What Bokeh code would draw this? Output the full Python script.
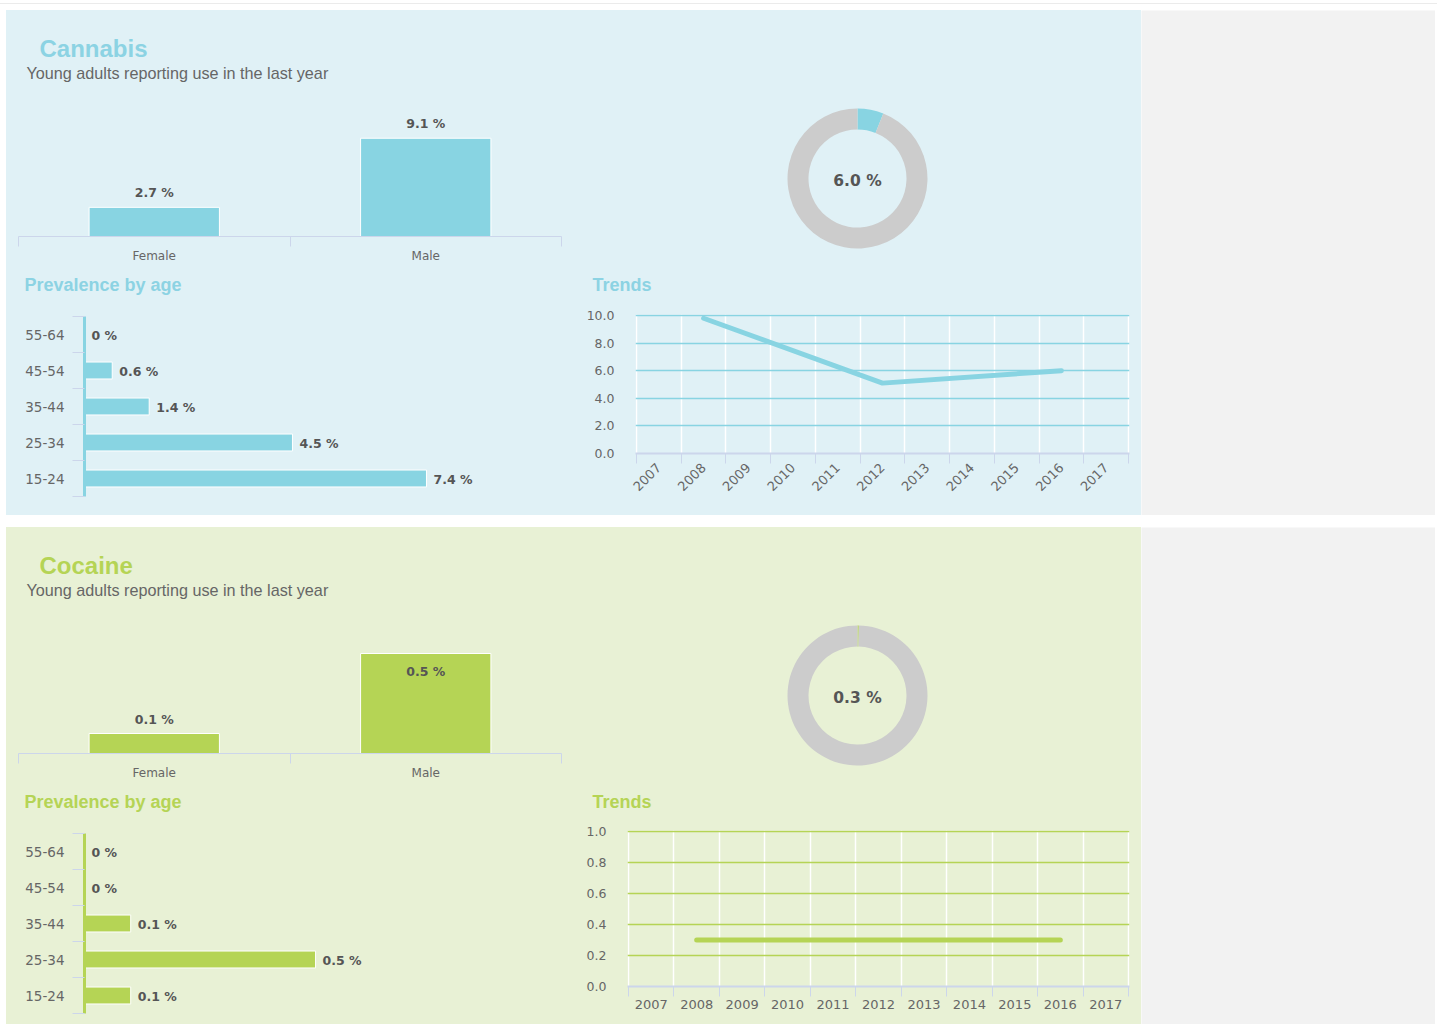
import math
from bokeh.plotting import figure
from bokeh.models import Range1d, FixedTicker, Spacer, PrintfTickFormatter
from bokeh.layouts import row, column
from bokeh.embed import file_html
from bokeh.resources import INLINE
from bokeh.core.properties import value

# ---------------- data ----------------
subtitle = "Young adults reporting use in the last year"
genders = ["Female", "Male"]
age_groups = ["15-24", "25-34", "35-44", "45-54", "55-64"]
years = ["2007", "2008", "2009", "2010", "2011", "2012", "2013", "2014", "2015", "2016", "2017"]

cannabis_gender = [2.7, 9.1]
cannabis_total = 6.0
cannabis_age = [7.4, 4.5, 1.4, 0.6, 0.0]
cannabis_trend = [None, 9.8, None, None, None, 5.1, None, None, None, 6.0, None]
cannabis_trend_ticks = [0, 2, 4, 6, 8, 10]

cocaine_gender = [0.1, 0.5]
cocaine_total = 0.3
cocaine_age = [0.1, 0.5, 0.1, 0.0, 0.0]
cocaine_trend = [None, 0.3, None, None, None, 0.3, None, None, None, 0.3, None]
cocaine_trend_ticks = [0, 0.2, 0.4, 0.6, 0.8, 1.0]

# ---------------- style ----------------
TXT = "DejaVu Sans"
HEAD = "Liberation Sans"
AXIS_C = "#ccd6eb"
LBL_C = "#555555"
TICK_C = "#666666"
DONUT_GREY = "#cccccc"

panels = [
    dict(name="Cannabis", color="#88D4E2", head_color="#8CD3E3", bg="#E0F1F6",
         gender=cannabis_gender, gender_view=11.67, gender_axis_max=10,
         total=cannabis_total, age=cannabis_age, age_view=10.3,
         trend=cannabis_trend, trend_ticks=cannabis_trend_ticks,
         rotate=True, bottom_h=247, trend_left=56, trend_top=15, trend_h=138),
    dict(name="Cocaine", color="#B5D455", head_color="#B5D455", bg="#E8F1D5",
         gender=cocaine_gender, gender_view=0.63, gender_axis_max=0.5,
         total=cocaine_total, age=cocaine_age, age_view=1.03,
         trend=cocaine_trend, trend_ticks=cocaine_trend_ticks,
         rotate=False, bottom_h=239, trend_left=48, trend_top=14, trend_h=155),
]

LEFT_W = 574
RIGHT_W = 561
GREY_W = 294
HDR_H = 100      # title block height
GEN_H = 158      # gender chart height
TOP_H = HDR_H + GEN_H
SUB_HDR_H = 32   # "Prevalence by age" / "Trends" strip


def new_fig(w, h, bg, xr, yr, left=0, right=0, top=0, bottom=0, axes=True, frame_bg=None):
    kw = {}
    if not axes:
        kw = dict(x_axis_location=None, y_axis_location=None)
    p = figure(width=w, height=h, x_range=xr, y_range=yr,
               output_backend="svg", toolbar_location=None,
               min_border_left=left, min_border_right=right,
               min_border_top=top, min_border_bottom=bottom, **kw)
    p.frame_align = False
    p.background_fill_color = frame_bg
    p.border_fill_color = bg
    p.outline_line_color = None
    p.xgrid.visible = False
    p.ygrid.visible = False
    return p


def header_fig(w, h, bg, items):
    p = new_fig(w, h, bg, Range1d(0, w), Range1d(h, 0), axes=False)
    for text, x, y, size, color, bold, font in items:
        p.text(x=[x], y=[y], text=[text], text_font=value(font),
               text_font_size=f"{size}px", text_font_style="bold" if bold else "normal",
               text_color=color, text_baseline="middle", text_align="left")
    return p


def gender_fig(P):
    n = len(genders)
    p = new_fig(LEFT_W, GEN_H, P["bg"], Range1d(0, n), Range1d(0, P["gender_view"]),
                left=12, right=19, top=0, bottom=32)
    xs = [i + 0.5 for i in range(n)]
    vals = P["gender"]
    p.vbar(x=xs, top=vals, bottom=0, width=0.48, fill_color=P["color"],
           line_color="white", line_width=1)
    lim = P["gender_axis_max"] * 0.95
    out_x = [x for x, v in zip(xs, vals) if v < lim]
    out_v = [v for v in vals if v < lim]
    in_x = [x for x, v in zip(xs, vals) if v >= lim]
    in_v = [v for v in vals if v >= lim]
    common = dict(text_font=value(TXT), text_font_size="12.5px", text_font_style="bold",
                  text_color=LBL_C, text_align="center")
    if out_x:
        p.text(x=out_x, y=out_v, text=[f"{v:g} %" for v in out_v],
               text_baseline="bottom", y_offset=-7, **common)
    if in_x:
        p.text(x=in_x, y=in_v, text=[f"{v:g} %" for v in in_v],
               text_baseline="top", y_offset=10, **common)
    ax = p.xaxis[0]
    ax.ticker = FixedTicker(ticks=xs, minor_ticks=list(range(n + 1)))
    ax.major_label_overrides = {x: g for x, g in zip(xs, genders)}
    ax.major_tick_out = 0
    ax.major_tick_in = 0
    ax.minor_tick_out = 10
    ax.minor_tick_in = 0
    ax.minor_tick_line_color = AXIS_C
    ax.axis_line_color = AXIS_C
    ax.major_label_standoff = 2
    ax.major_label_text_font = TXT
    ax.major_label_text_font_size = "12px"
    ax.major_label_text_color = TICK_C
    p.yaxis.visible = False
    return p


def donut_fig(P):
    cx, cy = 277, 90
    p = new_fig(RIGHT_W, TOP_H, P["bg"], Range1d(-cx, RIGHT_W - cx),
                Range1d(-cy, TOP_H - cy), axes=False)
    vals = [P["total"], 100 - P["total"]]
    starts, ends = [], []
    cum = 0.0
    for v in vals:
        starts.append(math.pi / 2 - 2 * math.pi * (cum + v) / 100)
        ends.append(math.pi / 2 - 2 * math.pi * cum / 100)
        cum += v
    p.annular_wedge(x=0, y=0, inner_radius=49, outer_radius=70,
                    start_angle=starts, end_angle=ends, direction="anticlock",
                    fill_color=[P["color"], DONUT_GREY], line_color=None)
    p.text(x=[0], y=[0], text=[f"{P['total']:.1f} %"], text_font=value(TXT),
           text_font_size="15.5px", text_font_style="bold", text_color=LBL_C,
           text_align="center", text_baseline="middle", y_offset=2)
    return p


def age_fig(P):
    H = P["bottom_h"] - SUB_HDR_H
    n = len(age_groups)
    p = new_fig(LEFT_W, H, P["bg"], Range1d(0, P["age_view"]), Range1d(0, n),
                left=78, right=20, top=16, bottom=H - 16 - 180)
    ys = [i + 0.5 for i in range(n)]
    vals = P["age"]
    p.hbar(y=ys, right=vals, left=0, height=0.47, fill_color=P["color"],
           line_color="white", line_width=1)
    p.text(x=vals, y=ys, text=[f"{v:g} %" for v in vals], x_offset=7,
           text_font=value(TXT), text_font_size="12.5px", text_font_style="bold",
           text_color=LBL_C, text_align="left", text_baseline="middle", y_offset=1)
    p.xaxis.visible = False
    ax = p.yaxis[0]
    ax.ticker = FixedTicker(ticks=ys, minor_ticks=list(range(n + 1)))
    ax.major_label_overrides = {y: a for y, a in zip(ys, age_groups)}
    ax.major_tick_out = 0
    ax.major_tick_in = 0
    ax.minor_tick_out = 12
    ax.minor_tick_in = 0
    ax.minor_tick_line_color = AXIS_C
    ax.axis_line_color = P["color"]
    ax.axis_line_width = 3
    ax.major_label_standoff = 8
    ax.major_label_text_font = TXT
    ax.major_label_text_font_size = "13.5px"
    ax.major_label_text_color = TICK_C
    return p


def trend_fig(P):
    H = P["bottom_h"] - SUB_HDR_H
    n = len(years)
    ticks = P["trend_ticks"]
    left = P["trend_left"]
    right = 13
    frame_w = RIGHT_W - left - right
    frame_h = P["trend_h"]
    bottom = H - P["trend_top"] - frame_h
    # pad the frame by one pixel so that edge grid lines stay visible
    dx = n / frame_w
    dy = (ticks[-1] - ticks[0]) / frame_h
    p = new_fig(RIGHT_W, H, P["bg"], Range1d(-dx, n + dx), Range1d(ticks[0], ticks[-1] + dy),
                left=left - 1, right=right - 1, top=P["trend_top"] - 1, bottom=bottom)
    xs = [i + 0.5 for i in range(n)]
    p.xgrid.visible = True
    p.xgrid.ticker = FixedTicker(ticks=list(range(n + 1)))
    p.xgrid.grid_line_color = "white"
    p.xgrid.grid_line_width = 1.5
    p.ygrid.visible = True
    p.ygrid.ticker = FixedTicker(ticks=ticks)
    p.ygrid.grid_line_color = P["color"]
    p.ygrid.grid_line_width = 1.5
    lx = [x for x, v in zip(xs, P["trend"]) if v is not None]
    ly = [v for v in P["trend"] if v is not None]
    p.line(lx, ly, line_width=5, line_color=P["color"], line_cap="round", line_join="round")
    ax = p.xaxis[0]
    ax.ticker = FixedTicker(ticks=xs, minor_ticks=list(range(n + 1)))
    ax.major_label_overrides = {x: y for x, y in zip(xs, years)}
    ax.major_tick_out = 0
    ax.major_tick_in = 0
    ax.minor_tick_out = 10
    ax.minor_tick_in = 0
    ax.minor_tick_line_color = AXIS_C
    ax.axis_line_color = AXIS_C
    ax.axis_line_width = 2
    ax.major_label_text_font = TXT
    ax.major_label_text_font_size = "13px"
    ax.major_label_text_color = TICK_C
    if P["rotate"]:
        ax.major_label_orientation = math.pi / 4
        ax.major_label_standoff = 2
    else:
        ax.major_label_standoff = 3
    ay = p.yaxis[0]
    ay.ticker = FixedTicker(ticks=ticks)
    ay.formatter = PrintfTickFormatter(format="%.1f")
    ay.axis_line_color = None
    ay.major_tick_out = 0
    ay.major_tick_in = 0
    ay.minor_tick_out = 0
    ay.minor_tick_in = 0
    ay.major_label_standoff = 21
    ay.major_label_text_font = TXT
    ay.major_label_text_font_size = "12.5px"
    ay.major_label_text_color = TICK_C
    return p


def grey_fig(h):
    return new_fig(GREY_W, h, "#F2F2F2", Range1d(0, 1), Range1d(0, 1), axes=False,
                   frame_bg="#F2F2F2")


blocks = []
for P in panels:
    bg = P["bg"]
    hdr = header_fig(LEFT_W, HDR_H, bg, [
        (P["name"], 33, 38, 24, P["head_color"], True, HEAD),
        (subtitle, 20, 62, 16.2, "#666666", False, HEAD),
    ])
    age_hdr = header_fig(LEFT_W, SUB_HDR_H, bg, [
        ("Prevalence by age", 18, 16, 18, P["head_color"], True, HEAD)])
    trend_hdr = header_fig(RIGHT_W, SUB_HDR_H, bg, [
        ("Trends", 12, 16, 18, P["head_color"], True, HEAD)])
    left = column(hdr, gender_fig(P), age_hdr, age_fig(P),
                  styles={"background-color": bg})
    right = column(donut_fig(P), trend_hdr, trend_fig(P),
                   styles={"background-color": bg})
    blocks.append(row(row(left, right, styles={"background-color": bg}),
                      grey_fig(TOP_H + P["bottom_h"])))

top_line = Spacer(width=1437, height=1, styles={"background-color": "#ebebeb"})
page = column(
    Spacer(width=1437, height=3), top_line, Spacer(width=1437, height=6),
    row(Spacer(width=6, height=10), blocks[0]),
    Spacer(width=1437, height=12),
    row(Spacer(width=6, height=10), blocks[1]),
)

open("out.html", "w").write(file_html(page, INLINE))
